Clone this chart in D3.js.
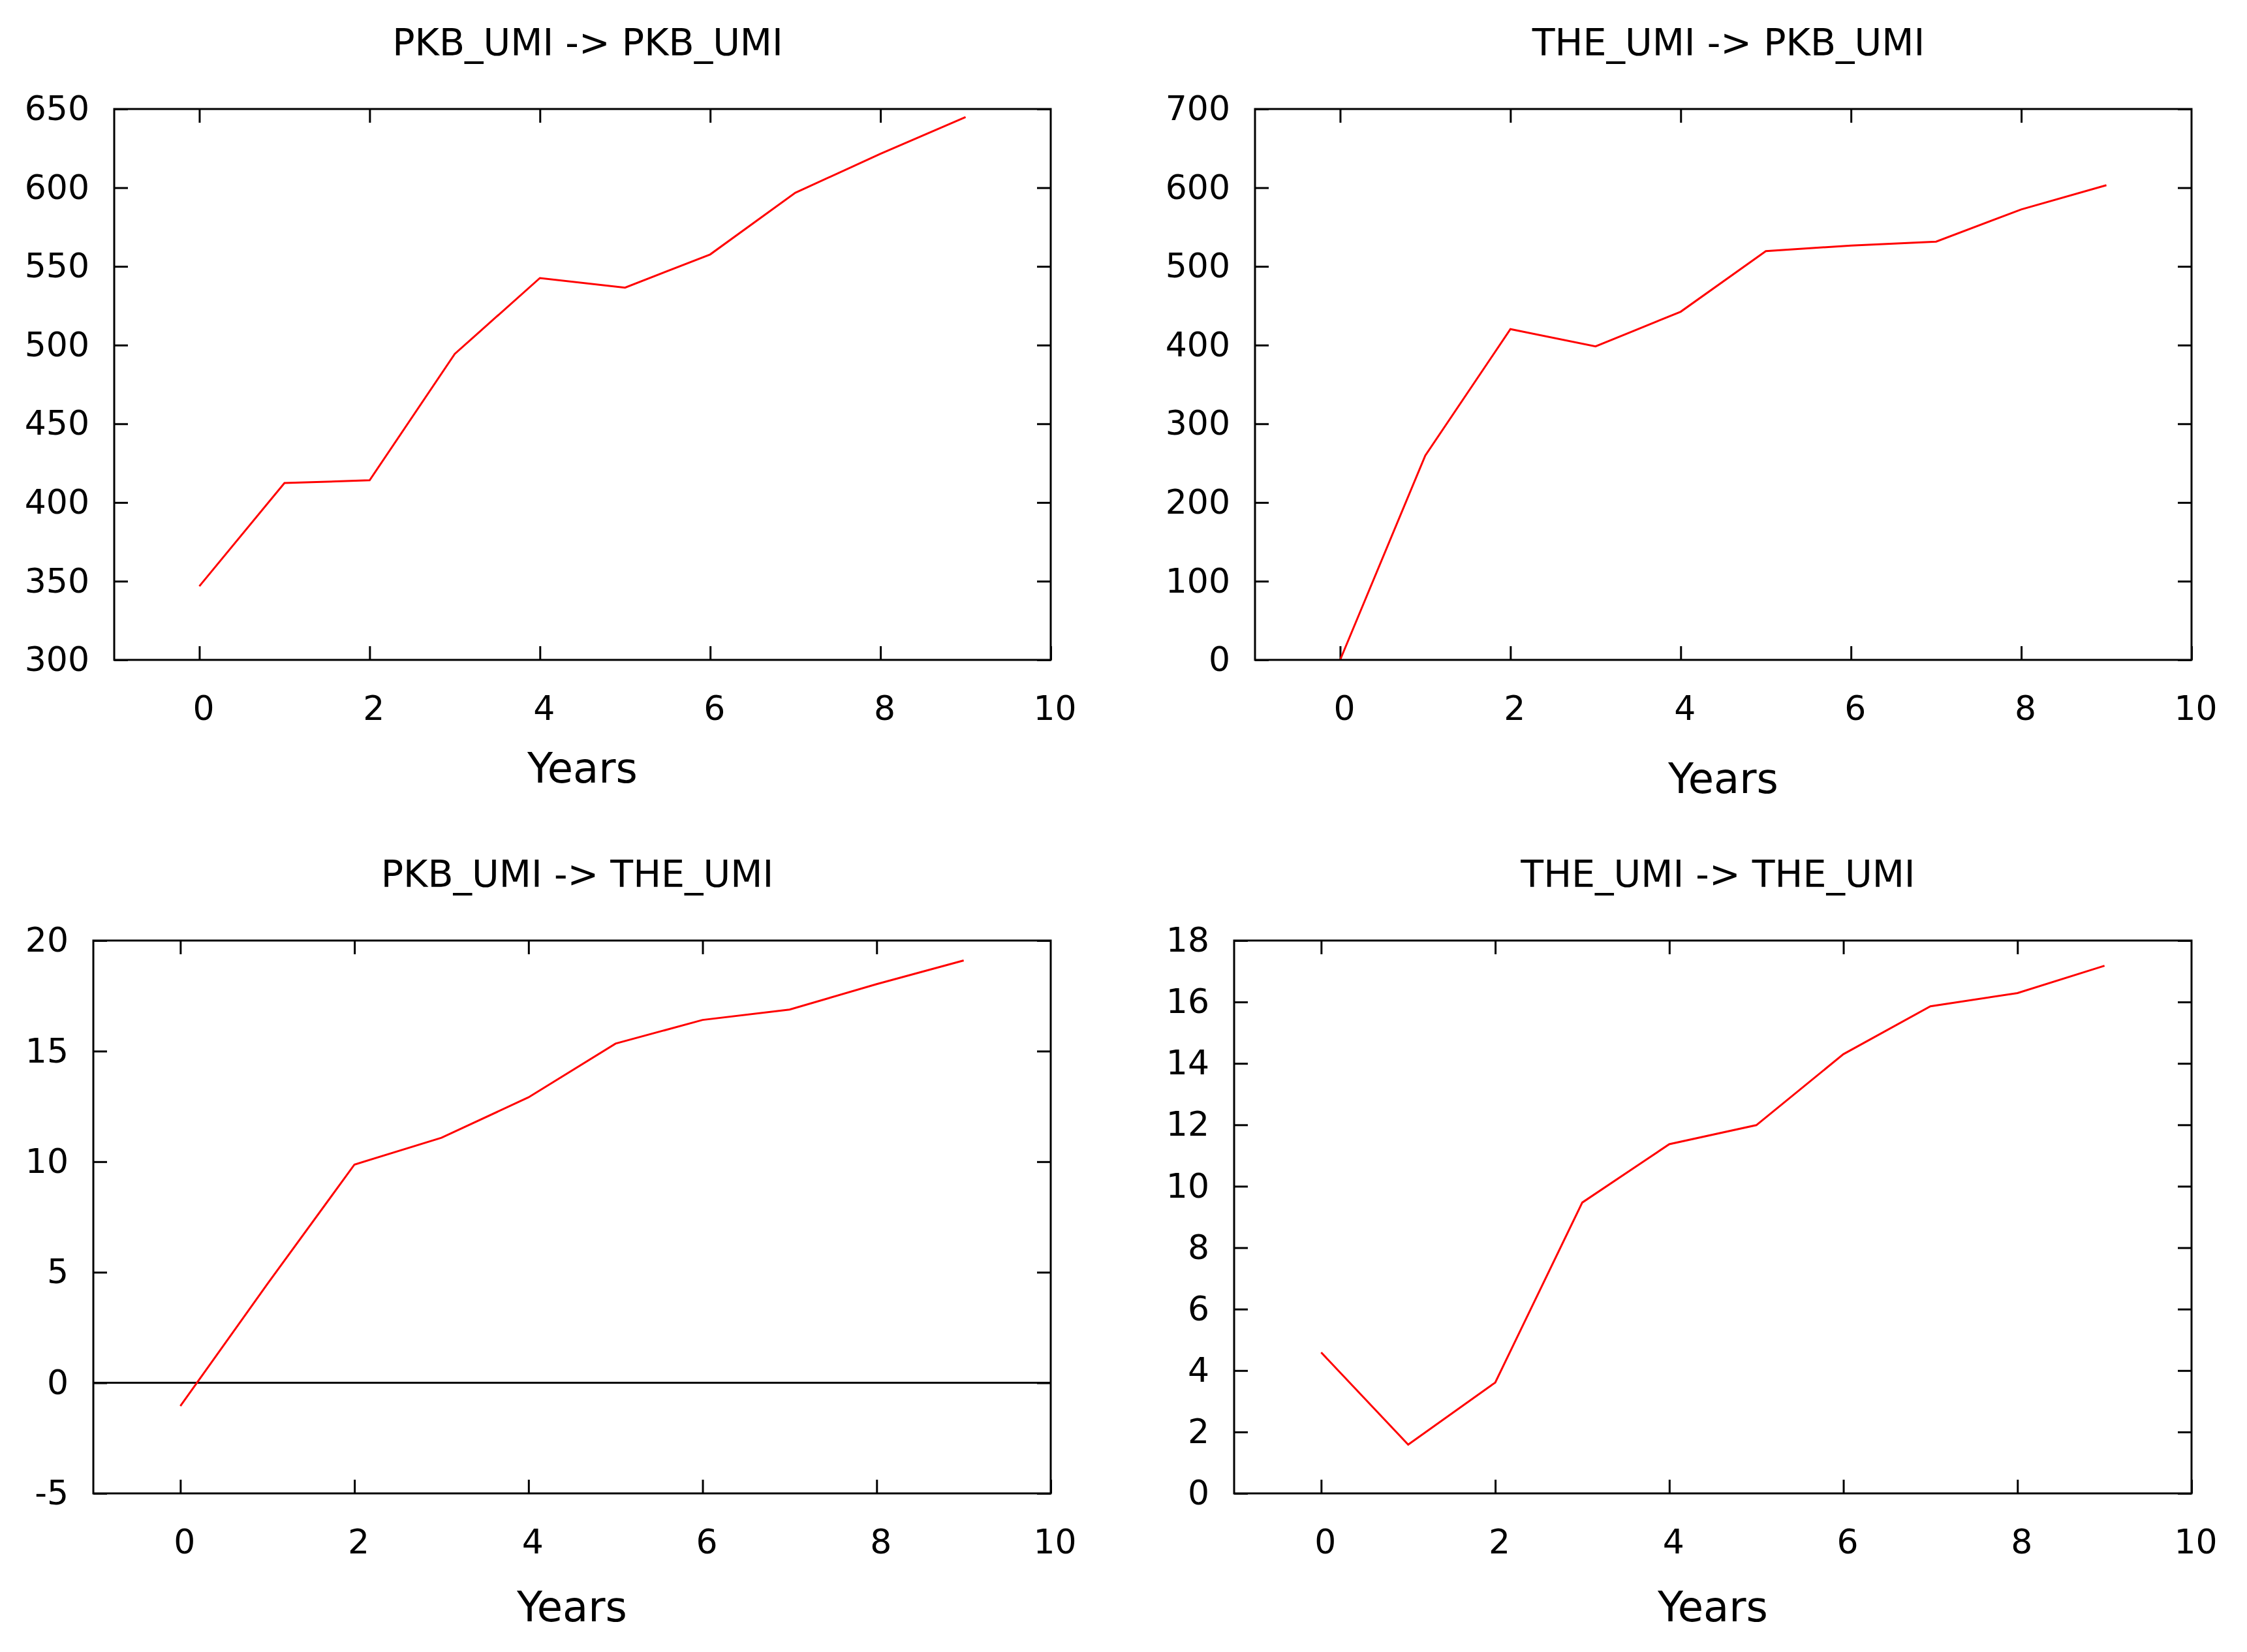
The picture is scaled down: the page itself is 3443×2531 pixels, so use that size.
<html>
<head>
  <meta charset="utf-8">
  <title> UMI transitions </title>
  <script src="https://d3js.org/d3.v7.min.js"></script>
  <style>
    body{
        margin: 0;
        background: white;
    }
    text{
        font-family: "DejaVu Sans", Verdana, sans-serif;
        fill: black;
    }
  </style>
</head>
<body>
    <svg id="chart" width="3443" height="2531"></svg>
    <script>

        // values, one per year 0..9
        const years = [0, 1, 2, 3, 4, 5, 6, 7, 8, 9];
        const pkbToPkb = [346.8, 412.4, 414.1, 494.4, 542.6, 536.5, 557.6, 596.8, 621.5, 644.9];
        const theToPkb = [0, 259.7, 420.3, 398.3, 442.4, 519.4, 526.5, 531.5, 572.4, 603.2];
        const pkbToThe = [-1.05, 4.47, 9.87, 11.08, 12.91, 15.34, 16.41, 16.88, 18.03, 19.1];
        const theToThe = [4.59, 1.59, 3.61, 9.47, 11.37, 11.99, 14.3, 15.86, 16.29, 17.18];

        const titles = ["PKB_UMI -> PKB_UMI", "THE_UMI -> PKB_UMI", "PKB_UMI -> THE_UMI", "THE_UMI -> THE_UMI"];
        const xTicks = [0, 2, 4, 6, 8, 10];
        const yTicks1 = [300, 350, 400, 450, 500, 550, 600, 650];
        const yTicks2 = [0, 100, 200, 300, 400, 500, 600, 700];
        const yTicks3 = [-5, 0, 5, 10, 15, 20];
        const yTicks4 = [0, 2, 4, 6, 8, 10, 12, 14, 16, 18];

        // layout of each panel (pixels)
        let panels = [
            {left: 175, right: 1610, top: 167, bottom: 1011, values: pkbToPkb, ticks: yTicks1, label: 188},
            {left: 1923, right: 3358, top: 167, bottom: 1011, values: theToPkb, ticks: yTicks2, label: 204},
            {left: 143, right: 1610, top: 1441, bottom: 2288, values: pkbToThe, ticks: yTicks3, label: 196, zero: true},
            {left: 1891, right: 3358, top: 1441, bottom: 2288, values: theToThe, ticks: yTicks4, label: 196}
        ];

        let svg = d3.select("#chart");
        const tickLen = 21;
        // plain hyphen for negatives, like the original
        const plain = d => String(d);

        panels.forEach(function(p, i) {
            let g = svg.append("g");
            let w = p.right - p.left;
            let h = p.bottom - p.top;

            let xScale = d3.scaleLinear().domain([-1, 10]).range([p.left, p.right]);
            let yScale = d3.scaleLinear().domain(d3.extent(p.ticks)).range([p.bottom, p.top]);

            // inward ticks on all four sides
            let bottomAxis = g.append("g")
                .attr("transform", `translate(0,${p.bottom})`)
                .call(d3.axisBottom(xScale).tickValues(xTicks).tickSize(-tickLen).tickPadding(55).tickFormat(plain));
            let topAxis = g.append("g")
                .attr("transform", `translate(0,${p.top})`)
                .call(d3.axisTop(xScale).tickValues(xTicks.slice(0, -1)).tickSize(-tickLen).tickFormat(""));
            let leftAxis = g.append("g")
                .attr("transform", `translate(${p.left},0)`)
                .call(d3.axisLeft(yScale).tickValues(p.ticks).tickSize(-tickLen).tickPadding(38).tickFormat(plain));
            let rightAxis = g.append("g")
                .attr("transform", `translate(${p.right},0)`)
                .call(d3.axisRight(yScale).tickValues(p.ticks).tickSize(-tickLen).tickFormat(""));

            [bottomAxis, topAxis, leftAxis, rightAxis].forEach(function(a) {
                a.select(".domain").remove();
                a.selectAll("line").attr("stroke", "black").attr("stroke-width", 3);
                a.selectAll("text").attr("font-size", 52).attr("font-family", "DejaVu Sans").attr("fill", "black");
            });
            bottomAxis.selectAll("text").attr("dx", 6);

            if (p.zero) {
                g.append("line")
                    .attr("x1", p.left).attr("x2", p.right)
                    .attr("y1", yScale(0)).attr("y2", yScale(0))
                    .attr("stroke", "black")
                    .attr("stroke-width", 3);
            }

            let line = d3.line()
                .x((d, j) => xScale(years[j]))
                .y(d => yScale(d));
            g.append("path")
                .datum(p.values)
                .attr("d", line)
                .attr("fill", "none")
                .attr("stroke", "#ff0000")
                .attr("stroke-width", 3);

            // frame
            g.append("rect")
                .attr("x", p.left).attr("y", p.top)
                .attr("width", w).attr("height", h)
                .attr("fill", "none")
                .attr("stroke", "black")
                .attr("stroke-width", 3);

            g.append("text")
                .attr("x", p.left + w / 2 + 8)
                .attr("y", p.top - 82)
                .attr("text-anchor", "middle")
                .attr("font-size", 57)
                .text(titles[i]);

            g.append("text")
                .attr("x", p.left + w / 2)
                .attr("y", p.bottom + p.label)
                .attr("text-anchor", "middle")
                .attr("font-size", 64)
                .text("Years");
        });

    </script>
</body>
</html>
